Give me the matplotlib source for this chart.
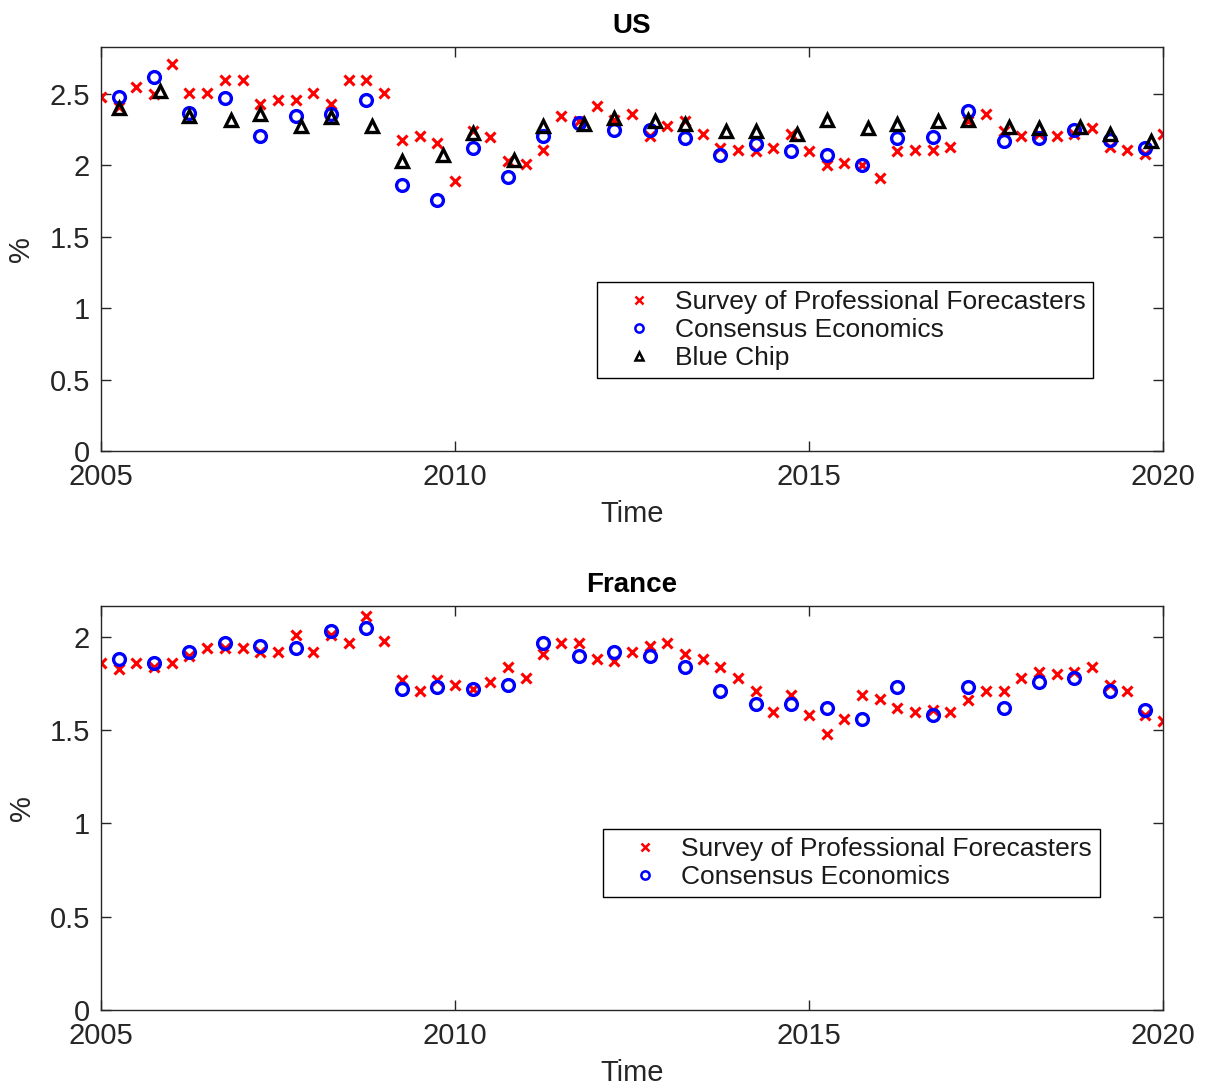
import numpy as np
import matplotlib
matplotlib.use('Agg')
import matplotlib.pyplot as plt

plt.rcParams['font.family'] = ['Liberation Sans', 'DejaVu Sans']

# SPF: quarterly 2005.0 .. 2020.0
spf_x = [2005 + 0.25 * i for i in range(61)]
us_spf = [2.48, 2.41, 2.55, 2.50, 2.71, 2.51, 2.51, 2.60, 2.60, 2.43,
          2.46, 2.46, 2.51, 2.43, 2.60, 2.60, 2.51, 2.18, 2.21, 2.16,
          1.89, 2.24, 2.20, 2.03, 2.01, 2.11, 2.35, 2.31, 2.42, 2.32,
          2.36, 2.21, 2.28, 2.31, 2.22, 2.12, 2.11, 2.10, 2.12, 2.22,
          2.10, 2.00, 2.02, 2.00, 1.91, 2.10, 2.11, 2.11, 2.13, 2.31,
          2.36, 2.24, 2.21, 2.22, 2.21, 2.22, 2.26, 2.13, 2.11, 2.08,
          2.22]
fr_spf = [1.86, 1.83, 1.86, 1.84, 1.86, 1.90, 1.94, 1.94, 1.94, 1.92,
          1.92, 2.01, 1.92, 2.01, 1.97, 2.11, 1.98, 1.77, 1.71, 1.77,
          1.74, 1.72, 1.76, 1.84, 1.78, 1.91, 1.97, 1.97, 1.88, 1.87,
          1.92, 1.95, 1.97, 1.91, 1.88, 1.84, 1.78, 1.71, 1.60, 1.69,
          1.58, 1.48, 1.56, 1.69, 1.67, 1.62, 1.60, 1.61, 1.60, 1.66,
          1.71, 1.71, 1.78, 1.81, 1.80, 1.81, 1.84, 1.74, 1.71, 1.58,
          1.55]

# Consensus Economics: semi-annual
ce_x = [2005.25 + 0.5 * i for i in range(30)]
us_ce = [2.48, 2.62, 2.37, 2.47, 2.21, 2.35, 2.36, 2.46, 1.86, 1.76,
         2.12, 1.92, 2.21, 2.30, 2.25, 2.25, 2.19, 2.07, 2.15, 2.10,
         2.07, 2.00, 2.19, 2.20, 2.38, 2.17, 2.19, 2.25, 2.18, 2.12]
fr_ce = [1.88, 1.86, 1.92, 1.97, 1.95, 1.94, 2.03, 2.05, 1.72, 1.73,
         1.72, 1.74, 1.97, 1.90, 1.92, 1.90, 1.84, 1.71, 1.64, 1.64,
         1.62, 1.56, 1.73, 1.58, 1.73, 1.62, 1.76, 1.78, 1.71, 1.61]

# Blue Chip (US only): March and October
bc_x = [y + d for y in range(2005, 2020) for d in (0.25, 0.83)]
us_bc = [2.40, 2.52, 2.35, 2.32, 2.36, 2.28, 2.34, 2.28, 2.03, 2.07,
         2.23, 2.04, 2.28, 2.29, 2.33, 2.31, 2.29, 2.24, 2.24, 2.22,
         2.32, 2.26, 2.29, 2.31, 2.32, 2.27, 2.26, 2.27, 2.22, 2.17]

fig = plt.figure(figsize=(12.08, 10.88), dpi=100)
ax1 = fig.add_axes([0.0836, 0.5855, 0.879, 0.3713])
ax2 = fig.add_axes([0.0836, 0.0717, 0.879, 0.3713])

grey = '#262626'

def style(ax, ymax, yticks):
    ax.set_xlim(2005, 2020)
    ax.set_ylim(0, ymax)
    ax.set_xticks([2005, 2010, 2015, 2020])
    ax.set_yticks(yticks)
    ax.set_yticklabels(['%g' % t for t in yticks])
    ax.tick_params(direction='in', length=7, width=1, labelsize=21,
                   top=True, right=True, colors=grey)
    ax.tick_params(axis='x', pad=9)
    ax.tick_params(axis='y', pad=8)
    for s in ax.spines.values():
        s.set_linewidth(1)
        s.set_color(grey)
    ax.set_xlabel('Time', fontsize=21, color=grey, labelpad=6)
    ax.set_ylabel('%', fontsize=21, color=grey, labelpad=10)

def legend(ax, anchor):
    leg = ax.legend(loc='upper left', bbox_to_anchor=anchor, fontsize=19,
                    fancybox=False, edgecolor='black', framealpha=1,
                    handlelength=2.6, borderpad=0.3, labelspacing=0.15,
                    handletextpad=0.05, borderaxespad=0, markerscale=0.7)
    leg.get_frame().set_linewidth(1)
    for t in leg.get_texts():
        t.set_color('#1a1a1a')
    for h in leg.legend_handles:
        h.set_markeredgewidth(1.8)

ax1.plot(spf_x, us_spf, 'x', color='red', ms=7.5, mew=2.2,
         label='Survey of Professional Forecasters')
ax1.plot(ce_x, us_ce, 'o', color='blue', mfc='none', ms=8.5, mew=2.4,
         label='Consensus Economics')
ax1.plot(bc_x, us_bc, '^', color='black', mfc='none', ms=8.5, mew=2.4,
         label='Blue Chip')
style(ax1, 2.83, [0, 0.5, 1, 1.5, 2, 2.5])
ax1.set_title('US', fontsize=20, fontweight='bold', pad=10)
legend(ax1, (0.467, 0.418))

ax2.plot(spf_x, fr_spf, 'x', color='red', ms=7.5, mew=2.2,
         label='Survey of Professional Forecasters')
ax2.plot(ce_x, fr_ce, 'o', color='blue', mfc='none', ms=8.5, mew=2.4,
         label='Consensus Economics')
style(ax2, 2.166, [0, 0.5, 1, 1.5, 2])
ax2.set_title('France', fontsize=20, fontweight='bold', pad=10)
legend(ax2, (0.473, 0.448))

fig.savefig('out.png', dpi=100)
